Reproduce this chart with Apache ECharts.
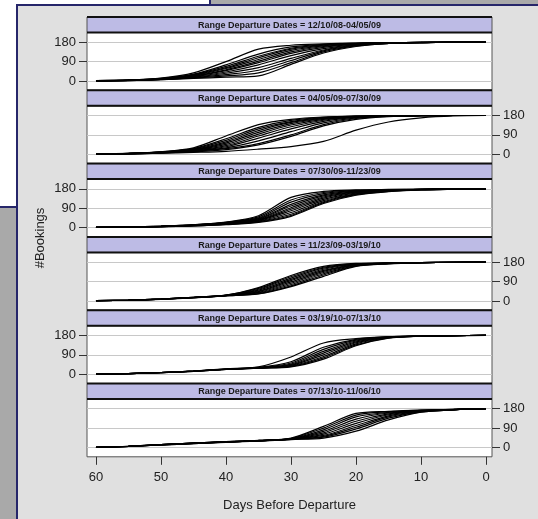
<!DOCTYPE html>
<html>
<head>
<meta charset="utf-8">
<script src="https://cdn.jsdelivr.net/npm/echarts@6/dist/echarts.min.js"></script>
<style>
html, body { margin: 0; padding: 0; }
#chart { width: 538px; height: 519px; }
</style>
</head>
<body>
<div id="chart"></div>
<script>
// days before departure at which each curve is read
var days = [60, 55, 50, 45, 40, 35, 30, 25, 20, 15, 10, 5, 0];
var xTicks = [0, 10, 20, 30, 40, 50, 60];
var yTicks = [0, 90, 180];
var stripLabels = [
    'Range Departure Dates = 12/10/08-04/05/09',
    'Range Departure Dates = 04/05/09-07/30/09',
    'Range Departure Dates = 07/30/09-11/23/09',
    'Range Departure Dates = 11/23/09-03/19/10',
    'Range Departure Dates = 03/19/10-07/13/10',
    'Range Departure Dates = 07/13/10-11/06/10'
];

// cumulative bookings, one row per departure
var bookings1 = [
    [2, 5, 14, 38, 90, 148, 166, 172, 176, 178, 179, 180, 180],
    [2, 4, 12, 32, 75, 125, 158, 170, 175, 178, 179, 180, 180],
    [2, 4, 11, 30, 68, 115, 152, 168, 175, 177, 179, 180, 180],
    [1, 4, 10, 28, 62, 108, 148, 166, 174, 177, 179, 180, 180],
    [1, 3, 10, 26, 58, 100, 142, 163, 173, 177, 179, 180, 180],
    [1, 3, 9, 24, 52, 92, 135, 160, 172, 177, 179, 180, 180],
    [1, 3, 9, 22, 48, 85, 128, 156, 171, 176, 178, 180, 180],
    [1, 3, 8, 20, 42, 75, 118, 150, 169, 176, 178, 180, 180],
    [1, 3, 8, 18, 36, 62, 105, 144, 167, 175, 178, 180, 180],
    [1, 3, 7, 16, 30, 50, 95, 140, 165, 175, 178, 180, 180],
    [1, 2, 6, 14, 24, 38, 85, 135, 163, 174, 178, 179, 180],
    [1, 2, 6, 12, 18, 24, 77, 130, 160, 174, 178, 179, 180]
];
var bookings2 = [
    [2, 5, 12, 30, 85, 138, 162, 173, 177, 179, 180, 180, 180],
    [2, 4, 11, 27, 72, 125, 157, 171, 177, 179, 180, 180, 180],
    [2, 4, 10, 25, 65, 118, 152, 169, 176, 179, 180, 180, 180],
    [1, 4, 10, 23, 58, 110, 148, 167, 176, 178, 180, 180, 180],
    [1, 3, 9, 21, 52, 102, 142, 165, 175, 178, 180, 180, 180],
    [1, 3, 9, 20, 46, 94, 136, 162, 174, 178, 179, 180, 180],
    [1, 3, 8, 18, 40, 85, 128, 158, 173, 178, 179, 180, 180],
    [1, 3, 8, 16, 35, 75, 118, 153, 171, 177, 179, 180, 180],
    [1, 3, 7, 15, 30, 62, 105, 146, 169, 177, 179, 180, 180],
    [1, 2, 7, 14, 26, 50, 90, 138, 166, 176, 179, 180, 180],
    [1, 2, 6, 12, 22, 44, 83, 132, 162, 175, 179, 180, 180],
    [1, 2, 5, 9, 14, 24, 36, 60, 112, 150, 169, 178, 180]
];
var bookings3 = [
    [1, 3, 7, 14, 26, 55, 140, 168, 175, 177, 178, 179, 180],
    [1, 3, 7, 13, 24, 50, 128, 163, 173, 176, 178, 179, 180],
    [1, 3, 6, 12, 23, 45, 118, 158, 171, 175, 178, 179, 180],
    [1, 3, 6, 12, 22, 42, 108, 152, 169, 174, 177, 179, 180],
    [1, 2, 6, 11, 21, 40, 100, 147, 167, 173, 177, 179, 180],
    [1, 2, 6, 11, 20, 37, 92, 142, 165, 172, 177, 179, 180],
    [1, 2, 5, 10, 19, 35, 85, 137, 163, 172, 177, 179, 180],
    [1, 2, 5, 10, 18, 33, 78, 131, 160, 171, 176, 179, 180],
    [1, 2, 5, 9, 17, 30, 70, 125, 157, 170, 176, 179, 180],
    [1, 2, 5, 9, 16, 28, 62, 120, 155, 169, 176, 178, 180],
    [1, 2, 4, 8, 15, 26, 56, 116, 153, 168, 175, 178, 180],
    [1, 2, 4, 8, 14, 24, 52, 112, 150, 167, 175, 178, 180]
];
var bookings4 = [
    [1, 4, 9, 17, 27, 62, 118, 160, 174, 176, 178, 179, 180],
    [1, 4, 9, 17, 27, 58, 112, 156, 172, 176, 178, 179, 180],
    [1, 4, 9, 17, 26, 54, 106, 152, 171, 175, 178, 179, 180],
    [1, 4, 9, 16, 26, 50, 100, 147, 170, 175, 178, 179, 180],
    [1, 4, 8, 16, 26, 46, 94, 142, 169, 175, 178, 179, 180],
    [1, 3, 8, 16, 25, 43, 88, 137, 167, 174, 177, 179, 180],
    [1, 3, 8, 15, 25, 40, 82, 132, 166, 174, 177, 179, 180],
    [1, 3, 8, 15, 24, 37, 76, 126, 164, 173, 177, 179, 180],
    [1, 3, 8, 15, 24, 34, 70, 120, 162, 173, 177, 179, 180],
    [1, 3, 7, 14, 23, 32, 66, 114, 160, 172, 177, 179, 180]
];
var bookings5 = [
    [1, 3, 8, 15, 25, 34, 80, 145, 165, 174, 177, 179, 180],
    [1, 3, 8, 15, 24, 32, 58, 125, 162, 173, 177, 179, 180],
    [1, 3, 8, 15, 24, 31, 52, 115, 158, 172, 177, 179, 180],
    [1, 3, 8, 14, 23, 30, 47, 106, 154, 172, 177, 179, 180],
    [1, 3, 7, 14, 23, 30, 44, 98, 150, 171, 176, 179, 180],
    [1, 3, 7, 14, 23, 29, 41, 90, 146, 170, 176, 179, 180],
    [1, 3, 7, 14, 22, 29, 38, 82, 141, 169, 176, 179, 180],
    [1, 3, 7, 13, 22, 28, 36, 76, 136, 168, 176, 179, 180],
    [1, 3, 7, 13, 22, 28, 34, 70, 132, 167, 176, 178, 180]
];
var bookings6 = [
    [1, 6, 14, 21, 27, 33, 44, 98, 158, 168, 174, 177, 180],
    [1, 6, 14, 21, 27, 33, 42, 90, 150, 166, 173, 177, 180],
    [1, 6, 13, 20, 27, 33, 41, 82, 142, 163, 172, 177, 180],
    [1, 6, 13, 20, 26, 32, 40, 75, 132, 160, 171, 176, 180],
    [1, 5, 13, 20, 26, 32, 40, 68, 122, 156, 170, 176, 180],
    [1, 5, 13, 19, 26, 32, 39, 62, 112, 152, 169, 176, 180],
    [1, 5, 12, 19, 25, 31, 39, 56, 102, 147, 168, 176, 180],
    [1, 5, 12, 19, 25, 31, 38, 52, 94, 142, 166, 175, 180],
    [1, 5, 12, 18, 25, 31, 38, 48, 86, 136, 165, 175, 180],
    [1, 5, 12, 18, 24, 30, 37, 44, 76, 128, 164, 175, 180]
];
var panels = [bookings1, bookings2, bookings3, bookings4, bookings5, bookings6];

var LEFT = 87, RIGHT = 492, TOP0 = 17, PITCH = 73.3, STRIP = 15.5;
var FONT = 'Liberation Sans, Arial, sans-serif';

var grids = [], xAxes = [], yAxes = [], series = [];
var graphics = [
    // slide-like backdrop around the plot
    { type: 'rect', shape: { x: 0, y: 0, width: 210, height: 5 }, style: { fill: '#fff' } },
    { type: 'rect', shape: { x: 0, y: 0, width: 17, height: 207 }, style: { fill: '#fff' } },
    { type: 'rect', shape: { x: 210, y: 0, width: 328, height: 5 }, style: { fill: '#a9a9a9' } },
    { type: 'rect', shape: { x: 0, y: 207, width: 17, height: 312 }, style: { fill: '#a9a9a9' } },
    { type: 'line', shape: { x1: 17, y1: 5, x2: 538, y2: 5 }, style: { stroke: '#26266a', lineWidth: 2 } },
    { type: 'line', shape: { x1: 17, y1: 4, x2: 17, y2: 519 }, style: { stroke: '#26266a', lineWidth: 2 } },
    { type: 'line', shape: { x1: 210, y1: 0, x2: 210, y2: 5 }, style: { stroke: '#26266a', lineWidth: 2 } },
    { type: 'line', shape: { x1: 0, y1: 207, x2: 17, y2: 207 }, style: { stroke: '#26266a', lineWidth: 2 } },
    {
        type: 'text', x: 40, y: 238, rotation: Math.PI / 2,
        style: { text: '#Bookings', fontSize: 13, fontFamily: FONT, fill: '#222', align: 'center', verticalAlign: 'middle' }
    }
];

panels.forEach(function (curves, k) {
    var stripTop = TOP0 + k * PITCH;
    var plotTop = stripTop + STRIP;
    var last = k === panels.length - 1;
    grids.push({
        left: LEFT, top: plotTop, width: RIGHT - LEFT, height: PITCH - STRIP,
        show: true, backgroundColor: '#fff', borderColor: '#555', borderWidth: 1,
        outerBoundsMode: 'none'
    });
    xAxes.push({
        gridIndex: k, type: 'value', inverse: true, min: -0.92, max: 61.38,
        position: 'bottom',
        axisLine: { show: false, onZero: false },
        splitLine: { show: false },
        axisTick: { show: last, customValues: xTicks, length: 8, lineStyle: { color: '#333' } },
        axisLabel: { show: last, customValues: xTicks, margin: 14, fontSize: 13, color: '#222', fontFamily: FONT },
        name: last ? 'Days Before Departure' : '',
        nameLocation: 'middle', nameGap: 42,
        nameTextStyle: { fontSize: 13, color: '#222', fontFamily: FONT }
    });
    yAxes.push({
        gridIndex: k, type: 'value', min: -43, max: 225,
        position: k % 2 ? 'right' : 'left',
        axisLine: { show: false, onZero: false },
        axisTick: { customValues: yTicks, length: 8, lineStyle: { color: '#333' } },
        axisLabel: { customValues: yTicks, margin: 11, fontSize: 13, color: '#222', fontFamily: FONT },
        splitLine: { show: true, lineStyle: { color: '#c8c8c8', width: 1 } }
    });
    curves.forEach(function (c) {
        series.push({
            type: 'line', xAxisIndex: k, yAxisIndex: k,
            data: days.map(function (d, i) { return [d, c[i]]; }),
            showSymbol: false, smooth: 0.3, silent: true,
            lineStyle: { color: '#000', width: 1.2 }
        });
    });
    // strip header
    graphics.push(
        { type: 'rect', z: 10, shape: { x: LEFT, y: stripTop, width: RIGHT - LEFT, height: STRIP }, style: { fill: '#bdbbe5', stroke: '#555', lineWidth: 1 } },
        { type: 'line', z: 11, shape: { x1: LEFT, y1: stripTop, x2: RIGHT, y2: stripTop }, style: { stroke: '#111', lineWidth: 2 } },
        { type: 'line', z: 11, shape: { x1: LEFT, y1: plotTop, x2: RIGHT, y2: plotTop }, style: { stroke: '#111', lineWidth: 2 } },
        {
            type: 'text', z: 12, x: (LEFT + RIGHT) / 2, y: stripTop + STRIP / 2 + 0.5,
            style: { text: stripLabels[k], fontSize: 9, fontWeight: 'bold', fontFamily: FONT, fill: '#1a1a1a', align: 'center', verticalAlign: 'middle' }
        }
    );
});

var chart = echarts.init(document.getElementById('chart'));
chart.setOption({
    backgroundColor: '#e0e0e0',
    animation: false,
    grid: grids,
    xAxis: xAxes,
    yAxis: yAxes,
    series: series,
    graphic: graphics
});
</script>
</body>
</html>
